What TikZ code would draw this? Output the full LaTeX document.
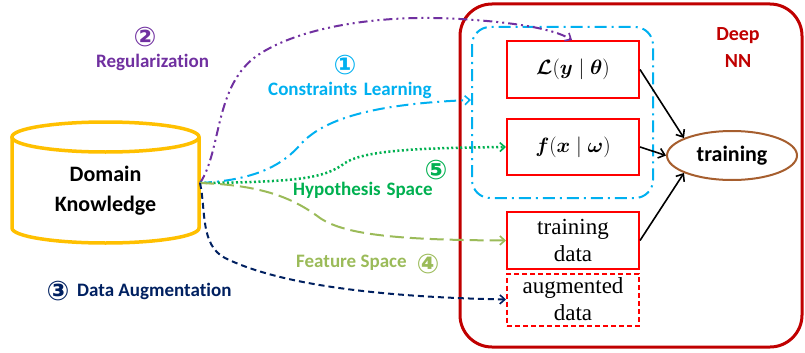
\documentclass[tikz,border=0pt]{standalone}
\usepackage{fontspec}
\usepackage{amsmath,amssymb,bm}
\usetikzlibrary{arrows.meta,shapes.geometric}
\newfontfamily\sansf[Ligatures=NoCommon]{Carlito}
\newfontfamily\dvf{DejaVu Sans}
\newfontfamily\serf{Liberation Serif}
\definecolor{cpurple}{HTML}{7030A0}
\definecolor{ccyan}{HTML}{00B0F0}
\definecolor{cgreen}{HTML}{00B050}
\definecolor{clgreen}{HTML}{9BBB59}
\definecolor{cnavy}{HTML}{002060}
\definecolor{cdred}{HTML}{C00000}
\definecolor{cred}{HTML}{FF0000}
\definecolor{cbrown}{HTML}{A65E2E}
\definecolor{cyellow}{HTML}{FFC000}
\tikzset{
  tipo/.style={-{Straight Barb[length=5pt,width=9pt,line width=1.6pt]}},
  box/.style={draw=cred,line width=2pt,minimum width=132pt,align=center,inner sep=0pt,
     font=\serf\fontsize{23}{27}\selectfont},
  lbl/.style={font=\sansf\bfseries\fontsize{19}{22}\selectfont,inner sep=0pt,anchor=west},
  circ/.style={font=\dvf\bfseries\fontsize{27}{28}\selectfont,inner sep=0pt},
  blk/.style={draw=black,line width=1.6pt,-{Straight Barb[length=6pt,width=10pt,line width=1.6pt]}},
}
\begin{document}
\begin{tikzpicture}[x=1pt,y=-1pt]
\useasboundingbox (0,0) rectangle (805,353);
% big Deep NN box
\draw[cdred,line width=3pt,rounded corners=32pt] (460,4) rectangle (802,347);
\node[font=\sansf\bfseries\fontsize{20}{27}\selectfont,text=cdred,align=center] (deep) at (738,48) {Deep\\NN};
% cyan group box
\draw[ccyan,line width=2pt,rounded corners=18pt,dash pattern=on 12pt off 5pt on 2pt off 5pt] (472,27) rectangle (653,198);
% boxes
\node[box,minimum height=57pt,font=\fontsize{21}{26}\selectfont] (L) at (573,69.5) {$\boldsymbol{\mathcal{L}}(\boldsymbol{y}\mid\boldsymbol{\theta})$};
\node[box,minimum height=56pt,font=\fontsize{21}{26}\selectfont] (f) at (573,147) {$\boldsymbol{f}(\boldsymbol{x}\mid\boldsymbol{\omega})$};
\node[box,minimum height=57pt] (td) at (573,240.5) {training\\data};
\node[box,minimum height=52pt,dashed,dash pattern=on 5pt off 3pt] (ad) at (573,299.5) {augmented\\data};
\node[draw=cbrown,line width=2pt,ellipse,minimum width=130pt,minimum height=49pt,inner sep=0pt,
      font=\sansf\bfseries\fontsize{22}{24}\selectfont] (tr) at (732,155.5) {training};
\draw[blk] (L.east) -- (tr.160);
\draw[blk] (f.east) -- (tr.west);
\draw[blk] (td.east) -- (tr.200);
% cylinder
\draw[cyellow,line width=3.5pt,fill=white]
  (12,137) -- (12,228) .. controls (12,236.3) and (53.9,243) .. (105.5,243)
  .. controls (157.1,243) and (199,236.3) .. (199,228) -- (199,137);
\draw[cyellow,line width=3.5pt] (105.5,137) ellipse [x radius=93.5,y radius=15];
\node[font=\sansf\bfseries\fontsize{22}{30}\selectfont,align=center] (dk) at (105.5,191) {Domain\\Knowledge};
\coordinate (src) at (200,183);
% connectors
\draw[cpurple,line width=2pt,dash pattern=on 9pt off 4pt on 2pt off 4pt on 2pt off 4pt,tipo]
  (src) .. controls (222,150) and (214,85) .. (258,55)
  .. controls (300,27) and (380,14) .. (460,19)
  .. controls (510,22) and (552,28) .. (572,40);
\draw[ccyan,line width=2pt,dash pattern=on 12pt off 5pt on 2pt off 5pt,tipo]
  (src) .. controls (260,180) and (285,162) .. (300,145)
  .. controls (322,120) and (370,104) .. (471,100);
\draw[cgreen,line width=2.5pt,dash pattern=on 2pt off 2.5pt,tipo]
  (src) .. controls (300,182) and (325,178) .. (345,163)
  .. controls (365,150) and (420,148) .. (f.west);
\draw[clgreen,line width=2pt,dash pattern=on 14pt off 6pt,tipo]
  (src) .. controls (260,185) and (292,197) .. (320,218)
  .. controls (345,235) and (400,240) .. (td.west);
\draw[cnavy,line width=2pt,dash pattern=on 6pt off 4pt,tipo]
  (src) .. controls (206,210) and (200,245) .. (225,258)
  .. controls (280,285) and (380,297) .. (ad.west);
% labels
\node[circ,text=cpurple] (c2) at (145,37) {②};
\node[lbl,text=cpurple] (reg) at (96,62) {Regularization};
\node[circ,text=ccyan] (c1) at (345,65) {①};
\node[lbl,text=ccyan] (cl) at (268,90) {Constraints\hspace{0.35em}Learning};
\node[circ,text=cgreen] (c5) at (436,170) {⑤};
\node[lbl,text=cgreen] (hs) at (293,190) {Hypothesis\hspace{0.3em}Space};
\node[lbl,text=clgreen] (fs) at (296,263) {Feature Space};
\node[circ,text=clgreen] (c4) at (428,264) {④};
\node[circ,text=cnavy] (c3) at (58,291) {③};
\node[lbl,text=cnavy] (da) at (77,291) {Data Augmentation};
\end{tikzpicture}
\end{document}
